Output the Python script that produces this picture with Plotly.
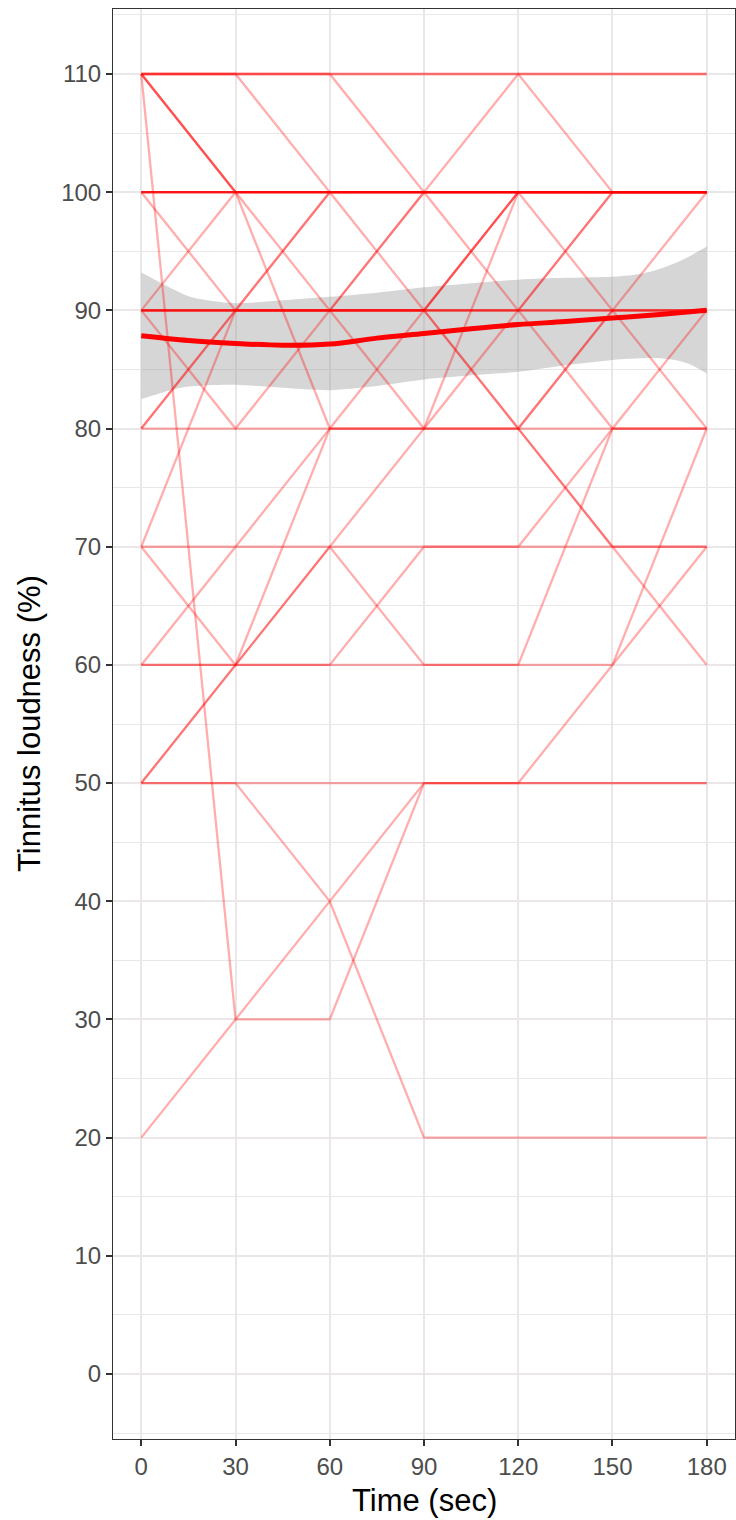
import plotly.graph_objects as go

# ---- data ----
times = [0, 30, 60, 90, 120, 150, 180]

subjects = [
    [110, 110, 110, 110, 110, 110, 110],
    [110, 110, 110, 110, 110, 110, 110],
    [110, 110, 110, 100, 110, 100, 100],
    [110, 110, 100, 100, 100, 100, 100],
    [110, 100, 100, 100, 100, 100, 100],
    [110, 100, 100, 100, 100, 100, 100],
    [110, 100, 80, 80, 100, 90, 100],
    [110, 30, 30, 50, 50, 50, 50],
    [100, 100, 100, 100, 100, 100, 100],
    [100, 100, 100, 100, 100, 100, 100],
    [100, 100, 100, 100, 100, 100, 100],
    [100, 100, 100, 100, 100, 100, 100],
    [100, 100, 100, 100, 100, 100, 100],
    [100, 100, 100, 100, 100, 100, 100],
    [100, 90, 100, 90, 100, 100, 100],
    [90, 100, 90, 100, 90, 100, 100],
    [90, 90, 90, 90, 100, 100, 100],
    [90, 90, 90, 90, 100, 100, 100],
    [90, 90, 90, 90, 90, 100, 100],
    [90, 90, 90, 90, 90, 90, 90],
    [90, 90, 90, 90, 90, 90, 90],
    [90, 90, 90, 90, 80, 90, 90],
    [90, 80, 90, 80, 90, 80, 90],
    [80, 90, 100, 100, 100, 100, 100],
    [80, 90, 90, 90, 90, 90, 90],
    [80, 80, 80, 90, 80, 90, 80],
    [70, 90, 90, 100, 100, 100, 100],
    [70, 70, 70, 70, 70, 80, 80],
    [70, 60, 80, 80, 80, 80, 80],
    [60, 70, 80, 80, 80, 70, 70],
    [60, 60, 60, 70, 70, 70, 60],
    [60, 60, 60, 60, 60, 60, 80],
    [50, 60, 70, 80, 80, 70, 70],
    [50, 60, 70, 60, 60, 80, 80],
    [50, 50, 50, 50, 50, 50, 50],
    [50, 50, 40, 20, 20, 20, 20],
    [20, 30, 40, 50, 50, 60, 70],
]

band_x = [0, 5, 10, 15, 20, 30, 45, 60, 75, 90, 105, 120, 135, 150, 155, 160, 165, 170, 175, 180]
band_lo = [82.5, 82.9, 83.3, 83.55, 83.65, 83.7, 83.45, 83.25, 83.6, 84.15, 84.5, 84.8,
           85.35, 85.8, 85.9, 85.95, 85.95, 85.8, 85.4, 84.65]
band_hi = [93.2, 92.5, 91.8, 91.2, 90.9, 90.6, 90.85, 91.15, 91.5, 91.95, 92.3, 92.6,
           92.75, 92.85, 92.95, 93.15, 93.5, 94.0, 94.65, 95.4]

smooth_x = [0, 15, 30, 45, 60, 75, 90, 105, 120, 135, 150, 165, 180]
smooth_fit = [87.85, 87.45, 87.2, 87.05, 87.15, 87.65, 88.05, 88.45, 88.8, 89.05, 89.35, 89.65, 90.0]

x_ticks = [0, 30, 60, 90, 120, 150, 180]
y_ticks = [0, 10, 20, 30, 40, 50, 60, 70, 80, 90, 100, 110]

FONT = "Liberation Sans, Arial, Helvetica, sans-serif"

fig = go.Figure()

# confidence band first (drawn beneath the subject lines)
fig.add_trace(go.Scatter(
    x=band_x, y=band_lo, mode="lines", line=dict(width=0, shape="spline", smoothing=0.8),
    hoverinfo="skip", showlegend=False))
fig.add_trace(go.Scatter(
    x=band_x, y=band_hi, mode="lines", line=dict(width=0, shape="spline", smoothing=0.8),
    fill="tonexty", fillcolor="rgba(153,153,153,0.4)",
    hoverinfo="skip", showlegend=False))

for s in subjects:
    fig.add_trace(go.Scatter(
        x=times, y=s, mode="lines",
        line=dict(color="rgba(255,0,0,0.32)", width=2.3),
        hoverinfo="skip", showlegend=False))

fig.add_trace(go.Scatter(
    x=smooth_x, y=smooth_fit, mode="lines",
    line=dict(color="#FF0000", width=5, shape="spline"),
    hoverinfo="skip", showlegend=False))

grid = "#EBE7E9"
fig.update_layout(
    width=736, height=1520,
    margin=dict(l=113, r=1, t=9, b=81),
    paper_bgcolor="white", plot_bgcolor="white",
    font=dict(family=FONT),
    xaxis=dict(
        range=[-9, 189], tickvals=x_ticks, ticktext=[str(v) for v in x_ticks],
        showgrid=True, gridcolor=grid, gridwidth=2, zeroline=False,
        showline=True, mirror=True, linecolor="#333333", linewidth=1,
        ticks="outside", ticklen=6, tickwidth=1.5, tickcolor="#333333",
        tickfont=dict(size=24, color="#4D4D4D", family=FONT),
    ),
    yaxis=dict(
        range=[-5.5, 115.5], tickvals=y_ticks, ticktext=[str(v) for v in y_ticks],
        showgrid=True, gridcolor=grid, gridwidth=2, zeroline=False,
        showline=True, mirror=True, linecolor="#333333", linewidth=1,
        ticks="outside", ticklen=6, tickwidth=1.5, tickcolor="#333333",
        tickfont=dict(size=24, color="#4D4D4D", family=FONT),
        minor=dict(tick0=5, dtick=10, showgrid=True, gridcolor=grid, gridwidth=1, ticks=""),
    ),
    annotations=[
        dict(text="Time (sec)", xref="paper", yref="paper", x=0.5, y=0,
             xanchor="center", yanchor="top", yshift=-42, showarrow=False,
             font=dict(size=31, color="black", family=FONT)),
        dict(text="Tinnitus loudness (%)", xref="paper", yref="paper", x=0, y=0.5,
             xanchor="center", yanchor="middle", xshift=-84, textangle=-90, showarrow=False,
             font=dict(size=31, color="black", family=FONT)),
    ],
)

fig.write_html("out.html")
